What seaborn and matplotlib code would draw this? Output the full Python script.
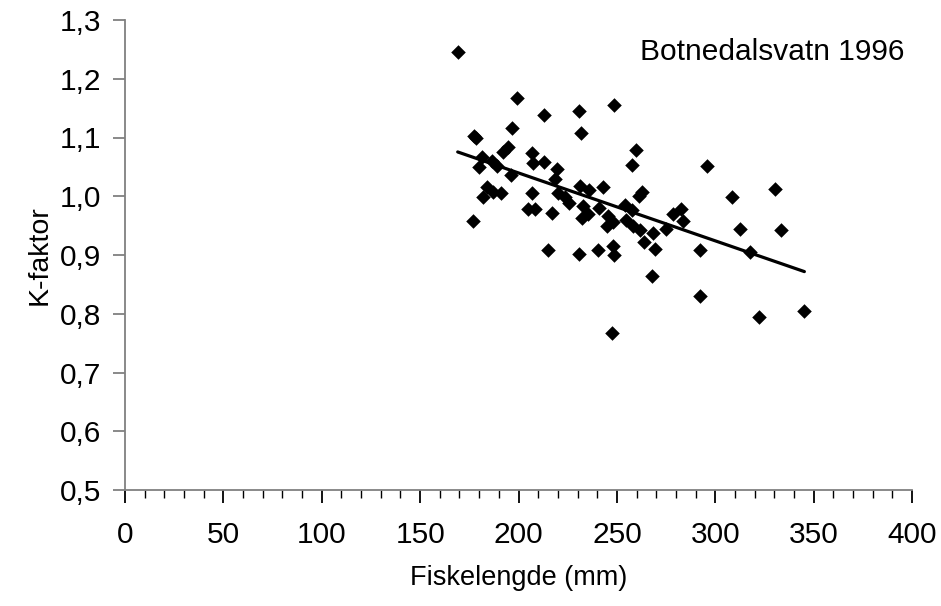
import numpy as np
import pandas as pd
import matplotlib
matplotlib.use("Agg")
import matplotlib.pyplot as plt
import seaborn as sns
from matplotlib.ticker import FixedLocator, FixedFormatter, MultipleLocator

# ---- data ----
length_mm = [
    169.1, 199.1, 213.0, 230.9, 248.7, 196.5, 231.9, 177.5, 178.5,
    194.8, 192.3, 181.3, 186.3, 188.9, 180.1, 196.0, 206.7, 207.5,
    213.0, 219.7, 218.5, 183.8, 187.2, 191.1, 181.8, 207.0, 204.7,
    208.4, 216.8, 177.0, 220.2, 223.5, 225.8, 231.1, 236.0, 243.1,
    232.9, 235.5, 232.1, 240.7, 245.6, 244.9, 247.8, 254.1, 257.5,
    254.5, 258.3, 261.7, 214.9, 230.9, 240.5, 248.2, 248.5, 247.7,
    257.5, 259.9, 295.6, 262.6, 261.2, 308.3, 330.4, 268.5, 264.0,
    269.6, 275.0, 278.7, 282.7, 283.8, 312.6, 333.2, 292.4, 317.7,
    267.6, 292.5, 322.4, 345.3,
]
k_factor = [
    1.245, 1.168, 1.138, 1.145, 1.155, 1.117, 1.108, 1.103, 1.100,
    1.083, 1.075, 1.067, 1.060, 1.051, 1.049, 1.037, 1.073, 1.057,
    1.058, 1.047, 1.029, 1.015, 1.007, 1.005, 0.998, 1.005, 0.978,
    0.978, 0.972, 0.958, 1.006, 0.998, 0.989, 1.017, 1.011, 1.015,
    0.983, 0.969, 0.963, 0.980, 0.966, 0.949, 0.956, 0.985, 0.977,
    0.960, 0.949, 0.942, 0.908, 0.901, 0.909, 0.915, 0.900, 0.767,
    1.054, 1.078, 1.051, 1.008, 1.000, 0.999, 1.012, 0.938, 0.922,
    0.911, 0.944, 0.969, 0.978, 0.958, 0.945, 0.942, 0.908, 0.905,
    0.864, 0.831, 0.795, 0.804,
]
x_ticks = [0, 50, 100, 150, 200, 250, 300, 350, 400]
y_ticks = [0.5, 0.6, 0.7, 0.8, 0.9, 1.0, 1.1, 1.2, 1.3]
y_tick_labels = ["0,5", "0,6", "0,7", "0,8", "0,9", "1,0", "1,1", "1,2", "1,3"]
x_label = "Fiskelengde (mm)"
y_label = "K-faktor"
annotation = "Botnedalsvatn 1996"

df = pd.DataFrame({"length": length_mm, "k": k_factor})

sns.set_style("white")
plt.rcParams["font.family"] = ["Liberation Sans", "DejaVu Sans"]
plt.rcParams["text.color"] = "black"
plt.rcParams["axes.labelcolor"] = "black"
plt.rcParams["xtick.color"] = "black"
plt.rcParams["ytick.color"] = "black"

fig = plt.figure(figsize=(9.41, 6.06), dpi=100)
ax = fig.add_axes([125 / 941, 1 - 490 / 606, (912 - 125) / 941, (490 - 20) / 606])

sns.regplot(data=df, x="length", y="k", ax=ax, ci=None, truncate=True,
            marker="D",
            scatter_kws=dict(s=55, color="black", linewidths=0, alpha=1),
            line_kws=dict(color="black", linewidth=2.3))

ax.set_xlim(0, 400)
ax.set_ylim(0.5, 1.3)
ax.xaxis.set_major_locator(FixedLocator(x_ticks))
ax.xaxis.set_minor_locator(MultipleLocator(10))
ax.yaxis.set_major_locator(FixedLocator(y_ticks))
ax.yaxis.set_major_formatter(FixedFormatter(y_tick_labels))

for side in ["top", "right"]:
    ax.spines[side].set_visible(False)
for side in ["left", "bottom"]:
    ax.spines[side].set_color("#808080")
    ax.spines[side].set_linewidth(1.3)

ax.tick_params(axis="x", which="major", direction="out", length=9, width=1.3,
               color="black", labelcolor="black", labelsize=21.5, pad=13, bottom=True)
ax.tick_params(axis="x", which="minor", direction="out", length=6, width=1,
               color="black", bottom=True)
ax.tick_params(axis="y", which="major", direction="out", length=9, width=1.3,
               color="#808080", labelcolor="black", labelsize=21.5, pad=8, left=True)

ax.set_xlabel(x_label, fontsize=19.5, labelpad=12, color="black")
ax.set_ylabel(y_label, fontsize=20.5, labelpad=5, color="black")

ax.text(0.654, 0.932, annotation, transform=ax.transAxes, fontsize=21.5,
        ha="left", va="center", color="black")

fig.savefig("out.png", dpi=100)
